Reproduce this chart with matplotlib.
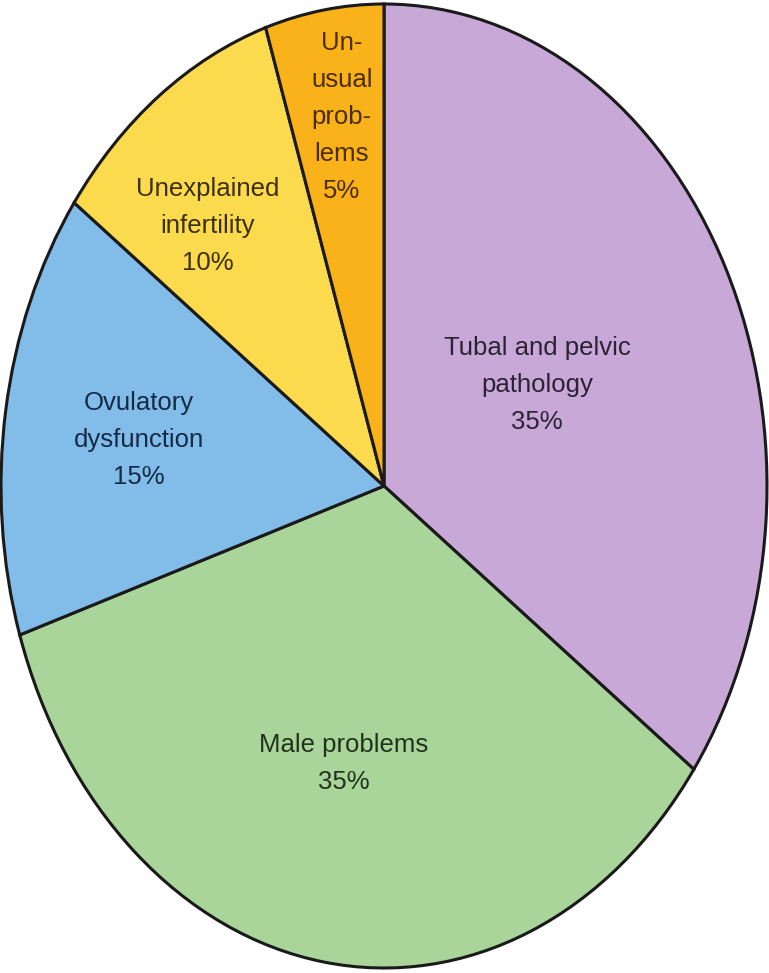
import matplotlib
matplotlib.use("Agg")
import matplotlib.pyplot as plt

categories = ["Tubal and pelvic\npathology", "Male problems", "Ovulatory\ndysfunction",
              "Unexplained\ninfertility", "Un-\nusual\nprob-\nlems"]
values = [35, 35, 15, 10, 5]
colors = ["#c8a8d6", "#a9d59b", "#82bce9", "#fcda4e", "#f9b21a"]
text_colors = ["#2e2036", "#22331b", "#142a46", "#3c2f04", "#4d2d00"]
label_pos = [(0.40, 0.21), (-0.105, -0.575), (-0.64, 0.095), (-0.46, 0.54), (-0.11, 0.765)]

plt.rcParams['font.family'] = ['Liberation Sans', 'DejaVu Sans']

fig = plt.figure(figsize=(7.69, 9.73), dpi=100)
ax = fig.add_axes([1/769, 5/973, 766/769, 964/973])
ax.pie(values, colors=colors, startangle=90, counterclock=False,
       wedgeprops=dict(edgecolor="#1a1a1a", linewidth=2.2), radius=1.0)
ax.set_aspect('auto')
ax.set_xlim(-1.0, 1.0)
ax.set_ylim(-1.0, 1.0)
ax.axis('off')

for cat, v, tc, (x, y) in zip(categories, values, text_colors, label_pos):
    ax.text(x, y, f"{cat}\n{v}%", ha='center', va='center', fontsize=18.5,
            color=tc, linespacing=1.68)

fig.savefig("out.png", dpi=100, facecolor="white")
